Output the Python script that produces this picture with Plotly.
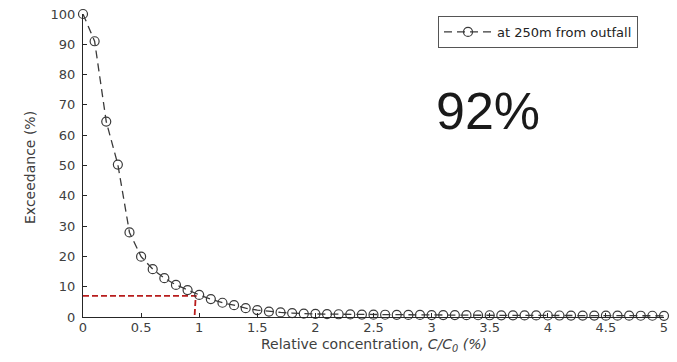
import plotly.graph_objects as go

x_vals = [round(i * 0.1, 1) for i in range(51)]
exceedance = [100, 91, 64.5, 50.3, 27.9, 19.9, 15.8, 12.8, 10.6, 8.9,
              7.3, 5.9, 4.7, 3.9, 2.9, 2.3, 1.8, 1.5, 1.3, 1.1,
              1.0, 0.95, 0.9, 0.85, 0.8, 0.78, 0.75, 0.72, 0.7, 0.68,
              0.65, 0.63, 0.62, 0.6, 0.58, 0.57, 0.55, 0.54, 0.53, 0.52,
              0.5, 0.49, 0.48, 0.47, 0.46, 0.45, 0.44, 0.43, 0.42, 0.41, 0.4]
series_name = "at 250m from outfall"
ref_x = [0, 0.97, 0.96]
ref_y = [7, 7, 0]
x_ticks = [0, 0.5, 1, 1.5, 2, 2.5, 3, 3.5, 4, 4.5, 5]
x_tick_text = ["0", "0.5", "1", "1.5", "2", "2.5", "3", "3.5", "4", "4.5", "5"]
y_ticks = [0, 10, 20, 30, 40, 50, 60, 70, 80, 90, 100]
annotation_text = "92%"
x_title = "Relative concentration, <i>C/C<sub>0</sub> (%)</i>"
y_title = "Exceedance (%)"

FONT = "Liberation Sans, Arial, sans-serif"
WIDE = "DejaVu Sans, Verdana, sans-serif"
GRAY = "#404040"

fig = go.Figure()
fig.add_trace(go.Scatter(
    x=ref_x, y=ref_y, mode="lines",
    line=dict(color="#b81c1c", width=1.8, dash="6px,3px"),
    showlegend=False, hoverinfo="skip", cliponaxis=False))
fig.add_trace(go.Scatter(
    x=x_vals, y=exceedance, mode="lines+markers", name=series_name,
    cliponaxis=False,
    line=dict(color="#3a3a3a", width=1.3, dash="8px,5px"),
    marker=dict(symbol="circle-open", size=9, color="#3a3a3a",
                line=dict(width=1.2, color="#3a3a3a"))))

fig.add_annotation(x=(488 - 83) / 581, y=(317 - 111) / 303,
                   xref="paper", yref="paper",
                   xanchor="center", yanchor="middle",
                   text=annotation_text, showarrow=False,
                   font=dict(family=FONT, size=52, color="#1a1a1a"))
fig.add_annotation(x=(374 - 83) / 581, y=-(345 - 317) / 303,
                   xref="paper", yref="paper",
                   xanchor="center", yanchor="middle",
                   text=x_title, showarrow=False,
                   font=dict(family=WIDE, size=14, color=GRAY))
fig.add_annotation(x=-(83 - 30) / 581, y=(317 - 168) / 303,
                   xref="paper", yref="paper",
                   xanchor="center", yanchor="middle",
                   text=y_title, showarrow=False, textangle=-90,
                   font=dict(family=WIDE, size=14, color=GRAY))

fig.update_layout(
    width=677, height=362,
    margin=dict(l=83, r=13, t=14, b=45, autoexpand=False),
    paper_bgcolor="white", plot_bgcolor="white",
    font=dict(family=WIDE, size=13, color=GRAY),
    legend=dict(x=(438 - 83) / 581, y=(317 - 32) / 303,
                xanchor="left", yanchor="middle",
                bordercolor="#555555", borderwidth=1, bgcolor="white",
                font=dict(family=WIDE, size=13, color="#222222"),
                itemwidth=48, tracegroupgap=0),
    xaxis=dict(range=[0, 5], tickvals=x_ticks, ticktext=x_tick_text,
               showgrid=False, zeroline=False, showline=True,
               linecolor="#262626", linewidth=1.2, automargin=False,
               ticks="inside", ticklen=4, tickcolor="#262626",
               ticklabelstandoff=-2,
               tickfont=dict(family=WIDE, size=13, color=GRAY)),
    yaxis=dict(range=[0, 100], tickvals=y_ticks,
               showgrid=False, zeroline=False, showline=True,
               linecolor="#262626", linewidth=1.2, automargin=False,
               ticks="inside", ticklen=4, tickcolor="#262626",
               ticklabelstandoff=4,
               tickfont=dict(family=WIDE, size=13, color=GRAY)),
)

fig.write_html("out.html",
               config={"displayModeBar": False},
               post_script="document.body.style.margin='0';"
                           "document.body.style.overflow='hidden';")
